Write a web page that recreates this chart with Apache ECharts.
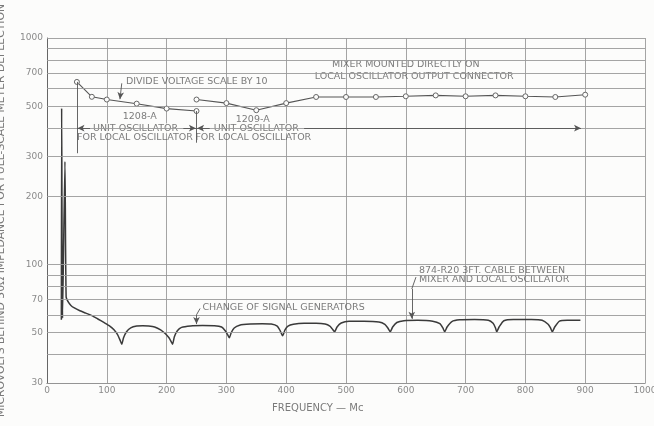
<!DOCTYPE html>
<html><head><meta charset="utf-8">
<script src="https://cdn.jsdelivr.net/npm/echarts@6/dist/echarts.min.js"></script>
<style>html,body{margin:0;padding:0;background:#fcfcfb}#c{width:654px;height:426px}</style>
</head><body><div id="c"></div>
<script>
// ---- data ----
const osc1208_freq = [50, 75, 100, 150, 200, 250];
const osc1208_uv   = [640, 550, 535, 513, 488, 476];
const osc1209_freq = [250, 300, 350, 400, 450, 500, 550, 600, 650, 700, 750, 800, 850, 900];
const osc1209_uv   = [535, 516, 480, 516, 549, 549, 549, 553, 558, 553, 558, 553, 549, 562];
const cable_freq = [24,24.5,26,30,32,36,40,45,55,65,75,85,95,105,112,118,122,125,128,133,140,150,160,170,180,190,198,204,208,210,
  213,218,225,240,260,280,292,298,302,305,308,313,322,340,360,375,385,390,394,398,403,412,430,450,465,473,477,481,485,492,
  505,530,555,565,570,574,578,585,597,620,645,657,662,665,669,677,690,715,738,746,750,752,756,764,780,810,828,838,842,845,849,857,870,892];
const cable_uv = [57,490,58,285,72,68,66,64.5,62.5,61,59.5,57.5,55.5,53.5,51.5,49,46.5,44.5,47.5,50.5,52.5,53.5,53.7,53.5,53,51.5,49.5,47.5,45.5,44.5,
  48,51,52.8,53.6,53.8,53.7,53,51,49,47.5,50,52.5,54,54.6,54.8,54.6,53.5,51,48.5,51.5,53.5,54.5,55,55,54.6,53.5,52,50.5,53,55.2,
  56.2,56.2,55.8,54.5,52.5,50.5,53,55.5,56.5,56.7,56.2,54.8,52.5,50.5,53,56,57,57.2,56.8,55,52.5,50.5,53,56.5,57.2,57.2,56.8,54.5,52.5,50.5,53,56.3,56.8,56.7];
const yGridValues = [30,40,50,60,70,80,90,100,200,300,400,500,600,700,800,900,1000];
const yTickLabels = [30,50,70,100,200,300,500,700,1000];

// ---- annotations (data coordinates) ----
const notes = [
  {text:'DIVIDE VOLTAGE SCALE BY 10', at:[132,640], align:'left'},
  {text:'1208-A', at:[155,451], align:'center'},
  {text:'UNIT OSCILLATOR', at:[148,400], align:'center', bg:true},
  {text:'FOR LOCAL OSCILLATOR', at:[147,362], align:'center'},
  {text:'1209-A', at:[344,436], align:'center'},
  {text:'UNIT OSCILLATOR', at:[350,400], align:'center', bg:true},
  {text:'FOR LOCAL OSCILLATOR', at:[345,362], align:'center'},
  {text:'MIXER MOUNTED DIRECTLY ON', at:[600,763], align:'center'},
  {text:'LOCAL OSCILLATOR OUTPUT CONNECTOR', at:[614,679], align:'center'},
  {text:'CHANGE OF SIGNAL GENERATORS', at:[260,64.7], align:'left'},
  {text:'874-R20 3FT. CABLE BETWEEN', at:[622,94], align:'left'},
  {text:'MIXER AND LOCAL OSCILLATOR', at:[622,85.6], align:'left'}
];
// [from, to, arrowAtEnd]
const leaders = [
  [[125,631],[122,537],true],
  [[256,64],[250,60],false],[[250,60],[250,54.6],true],
  [[617,88],[610,78],false],[[610,78],[610,57.6],true],
  [[72,400],[51,400],true],[[228,400],[249,400],true],[[272,400],[251,400],true],[[430,400],[893,400],true],
  [[50,640],[50,310],false],[[250,476],[250,345],false]
];

const FONT = 'DejaVu Sans';
const TXT = '#5a5a5a';
const zip = (a,b) => a.map((v,i)=>[v,b[i]]);

const chart = echarts.init(document.getElementById('c'), null, {renderer:'canvas'});
chart.setOption({
  backgroundColor:'#fcfcfb',
  animation:false,
  grid:{left:47, top:38, width:598, height:345, containLabel:false, outerBoundsMode:'none'},
  xAxis:{type:'value', min:0, max:1000, interval:100,
    axisLine:{show:true, lineStyle:{color:'#666', width:1}},
    axisTick:{show:false},
    axisLabel:{color:'#8a8a8a', fontFamily:FONT, fontSize:9, margin:3, formatter:v=>String(v)},
    splitLine:{show:true, lineStyle:{color:'#9a9a9a', width:0.9}}
  },
  yAxis:{type:'log', logBase:10, min:30, max:1000,
    name:'MICROVOLTS BEHIND 50\u03A9 IMPEDANCE FOR FULL-SCALE METER DEFLECTION',
    nameLocation:'middle', nameGap:40, nameRotate:90,
    nameTextStyle:{color:'#7a7a7a', fontFamily:FONT, fontSize:10.8},
    axisLine:{show:true, lineStyle:{color:'#666', width:1}},
    axisTick:{show:false}, axisLabel:{show:false}, splitLine:{show:false}
  },
  graphic:[{type:'text', left:272, top:403, style:{text:'FREQUENCY \u2014 Mc', fill:'#7a7a7a', font:'10px "DejaVu Sans"'}}],
  series:[
    {type:'line', name:'grid', data:[], silent:true,
      markLine:{silent:true, symbol:'none', animation:false,
        lineStyle:{color:'#9a9a9a', width:0.9, type:'solid'},
        label:{position:'start', distance:4, color:'#8a8a8a', fontFamily:FONT, fontSize:9},
        data:yGridValues.map(v=>({yAxis:v, label:{show:yTickLabels.includes(v), formatter:String(v)}}))}
    },
    {type:'line', name:'1208-A', data:zip(osc1208_freq, osc1208_uv), symbol:'circle', symbolSize:5,
      showSymbol:true, lineStyle:{color:'#555', width:1.1}, itemStyle:{color:'#fcfcfb', borderColor:'#666', borderWidth:1}},
    {type:'line', name:'1209-A', data:zip(osc1209_freq, osc1209_uv), symbol:'circle', symbolSize:5,
      lineStyle:{color:'#555', width:1.1}, itemStyle:{color:'#fcfcfb', borderColor:'#666', borderWidth:1}},
    {type:'line', name:'cable', data:zip(cable_freq, cable_uv), symbol:'none', smooth:0.2,
      lineStyle:{color:'#3a3a3a', width:1.5}},
    {type:'line', name:'leaders', data:[], silent:true,
      markLine:{silent:true, animation:false, symbolSize:[5,7],
        lineStyle:{color:'#555', width:0.9, type:'solid'}, label:{show:false},
        data:leaders.map(l=>[{coord:l[0], symbol:'none'},{coord:l[1], symbol:l[2]?'arrow':'none'}])}
    },
    {type:'scatter', name:'notes', silent:true, symbolSize:1, itemStyle:{color:'rgba(0,0,0,0)'},
      data:notes.map(n=>({value:n.at, label:{show:true, position:'inside', formatter:n.text, align:n.align,
        verticalAlign:'middle', color:TXT, fontFamily:FONT, fontSize:9.5,
        backgroundColor:n.bg?'#fcfcfb':'transparent', padding:n.bg?[0,2]:0}}))}
  ]
});
</script></body></html>
